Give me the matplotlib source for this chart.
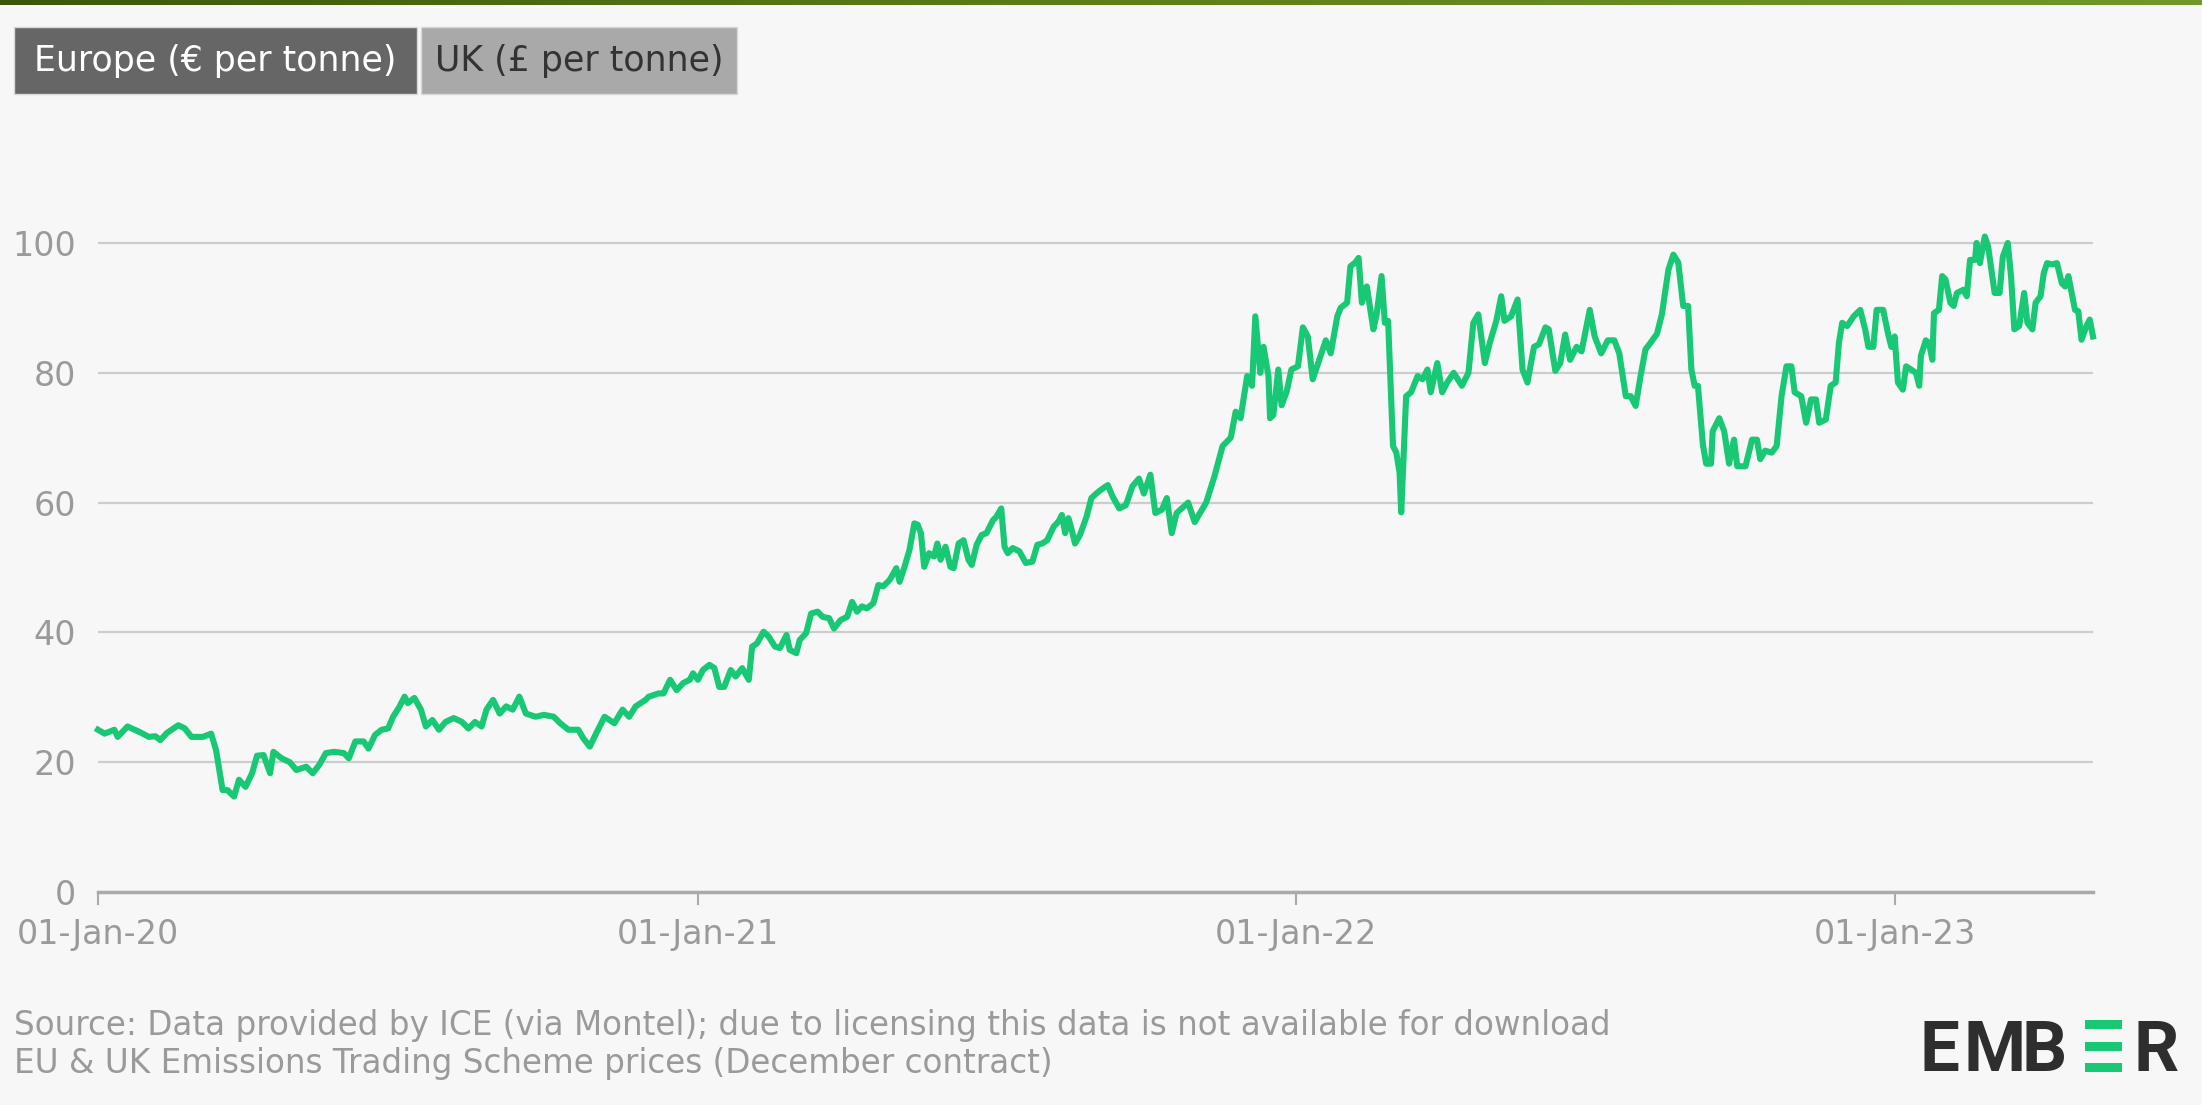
import numpy as np
import pandas as pd
import matplotlib
matplotlib.use("Agg")
import matplotlib.pyplot as plt
import matplotlib.dates as mdates
from matplotlib.patches import Rectangle
from matplotlib.colors import LinearSegmentedColormap

plt.rcParams['font.family'] = ['DejaVu Sans']

# EU ETS December contract, days counted from 01-Jan-2020
start = pd.Timestamp("2020-01-01")
days = [
    0, 4, 10, 12, 18, 25, 31, 35, 38, 42, 49, 53, 57, 64, 69, 72, 76, 79, 83, 86,
    90, 94, 97, 101, 105, 107, 112, 117, 121, 127, 131, 135, 139, 144, 150, 153, 157, 162, 165, 169,
    173, 177, 180, 184, 187, 189, 193, 197, 200, 204, 208, 212, 217, 222, 226, 230, 234, 237, 241, 245,
    249, 253, 257, 261, 267, 272, 278, 282, 287, 293, 296, 300, 304, 309, 315, 320, 324, 328, 334, 336,
    342, 345, 349, 353, 357, 361, 363, 366, 369, 373, 376, 379, 382, 386, 389, 393, 397, 399, 402, 406,
    409, 413, 416, 420, 422, 426, 428, 432, 435, 439, 442, 446, 449, 453, 457, 460, 463, 466, 469, 473,
    476, 479, 483, 487, 489, 492, 495, 498, 500, 502, 504, 507, 510, 512, 514, 517, 520, 522, 525, 528,
    531, 533, 536, 539, 542, 546, 548, 551, 553, 555, 558, 562, 566, 570, 573, 576, 579, 583, 586, 588,
    590, 592, 594, 596, 599, 603, 606, 609, 612, 616, 619, 623, 627, 631, 635, 638, 642, 645, 649, 652,
    655, 658, 665, 669, 676, 681, 686, 691, 694, 697, 701, 704, 706, 709, 711, 714, 715, 717, 720, 722,
    725, 728, 732, 735, 738, 741, 745, 749, 752, 756, 758, 762, 764, 767, 769, 771, 773, 774, 778, 780,
    783, 785, 787, 790, 792, 794, 795, 798, 801, 805, 808, 811, 813, 817, 820, 823, 827, 832, 836, 839,
    842, 846, 849, 853, 856, 858, 862, 866, 869, 872, 876, 879, 883, 885, 889, 892, 895, 898, 902, 905,
    910, 913, 917, 921, 925, 928, 932, 935, 938, 941, 944, 947, 951, 954, 958, 961, 964, 967, 970, 972,
    974, 976, 979, 981, 984, 985, 987, 989, 992, 995, 998, 1000, 1005, 1009, 1012, 1014, 1017, 1021, 1024, 1027,
    1030, 1033, 1035, 1039, 1042, 1045, 1048, 1050, 1054, 1057, 1060, 1062, 1064, 1067, 1071, 1075, 1078, 1080, 1083, 1085,
    1089, 1092, 1094, 1096, 1098, 1101, 1103, 1106, 1109, 1111, 1112, 1115, 1117, 1119, 1120, 1123, 1125, 1127, 1130, 1132,
    1134, 1138, 1140, 1142, 1145, 1146, 1148, 1151, 1153, 1155, 1157, 1160, 1162, 1165, 1167, 1169, 1172, 1175, 1177, 1180,
    1182, 1185, 1187, 1189, 1192, 1195, 1198, 1200, 1202, 1206, 1208, 1210, 1213, 1215, 1217,
]
price = [
    25.0, 24.4, 25.0, 23.9, 25.5, 24.7, 23.9, 24.0, 23.4, 24.5, 25.7, 25.2, 23.9, 23.9, 24.4, 21.9, 15.7, 15.7, 14.7, 17.3,
    16.2, 18.3, 21.0, 21.1, 18.3, 21.6, 20.6, 20.0, 18.8, 19.3, 18.3, 19.6, 21.4, 21.6, 21.4, 20.6, 23.2, 23.2, 22.1, 24.2,
    25.0, 25.2, 27.0, 28.6, 30.1, 29.1, 29.9, 28.1, 25.5, 26.5, 25.0, 26.2, 26.8, 26.2, 25.2, 26.2, 25.5, 28.1, 29.6, 27.5,
    28.6, 28.1, 30.1, 27.5, 27.0, 27.3, 27.0, 26.0, 25.0, 25.0, 23.7, 22.4, 24.5, 27.0, 26.0, 28.1, 27.0, 28.6, 29.6, 30.1,
    30.6, 30.6, 32.7, 31.1, 32.2, 32.7, 33.7, 32.7, 34.2, 35.0, 34.5, 31.6, 31.6, 34.2, 33.2, 34.5, 32.7, 37.8, 38.3, 40.1,
    39.4, 37.8, 37.6, 39.6, 37.3, 36.8, 38.8, 39.9, 42.9, 43.2, 42.4, 42.2, 40.6, 41.9, 42.4, 44.7, 43.2, 44.0, 43.7, 44.5,
    47.3, 47.1, 48.1, 49.9, 47.8, 50.1, 52.7, 56.8, 56.6, 55.3, 50.1, 52.2, 51.7, 53.7, 51.2, 53.2, 50.1, 49.9, 53.7, 54.2,
    51.2, 50.4, 53.5, 55.0, 55.3, 57.3, 57.8, 59.1, 53.2, 52.2, 53.0, 52.5, 50.7, 50.9, 53.5, 53.7, 54.2, 56.3, 57.1, 58.1,
    55.3, 57.6, 55.8, 53.7, 55.0, 57.8, 60.7, 61.4, 62.0, 62.7, 60.9, 59.1, 59.6, 62.5, 63.7, 61.4, 64.3, 58.4, 58.9, 60.7,
    55.3, 58.4, 60.0, 57.0, 60.0, 64.0, 68.7, 70.0, 74.0, 73.0, 79.5, 78.0, 88.7, 80.0, 84.0, 79.5, 73.0, 73.5, 80.5, 75.0,
    77.0, 80.5, 81.0, 87.0, 85.6, 79.0, 82.0, 85.0, 83.0, 88.7, 90.0, 90.8, 96.4, 97.0, 97.7, 90.8, 92.8, 93.3, 86.7, 89.0,
    94.9, 87.7, 88.0, 68.7, 67.7, 64.6, 58.5, 76.4, 77.0, 79.5, 79.0, 80.5, 77.0, 81.5, 77.0, 78.5, 80.0, 78.0, 80.0, 87.7,
    89.0, 81.5, 84.6, 88.0, 91.8, 88.0, 88.7, 91.3, 80.5, 78.5, 84.0, 84.4, 87.0, 86.7, 80.3, 81.5, 85.9, 82.0, 84.0, 83.3,
    89.7, 85.6, 83.0, 85.0, 85.0, 83.0, 76.4, 76.4, 74.9, 79.5, 83.6, 84.6, 86.0, 89.0, 95.9, 98.2, 97.0, 90.3, 90.3, 80.5,
    78.0, 78.0, 69.0, 66.0, 66.0, 71.0, 72.0, 73.0, 71.0, 66.0, 69.7, 65.6, 65.6, 69.7, 69.7, 66.7, 68.0, 67.7, 68.7, 76.4,
    81.0, 81.0, 77.0, 76.4, 72.3, 75.9, 75.9, 72.3, 72.8, 78.0, 78.5, 84.6, 87.7, 87.2, 88.7, 89.7, 86.7, 84.0, 84.0, 89.7,
    89.7, 86.0, 84.0, 85.6, 78.5, 77.4, 81.0, 80.5, 80.0, 78.0, 82.6, 85.0, 84.6, 82.0, 89.2, 89.7, 94.9, 94.4, 90.8, 90.3,
    92.3, 92.8, 91.8, 97.4, 97.4, 100.0, 96.9, 101.0, 99.5, 95.9, 92.3, 92.3, 97.9, 100.0, 94.9, 86.7, 87.2, 92.3, 87.7, 86.7,
    90.8, 91.8, 95.4, 96.9, 96.7, 96.9, 93.8, 93.3, 94.9, 89.7, 89.5, 85.1, 87.2, 88.2, 85.6,
]
year_ticks = ["2020-01-01", "2021-01-01", "2022-01-01", "2023-01-01"]
y_ticks = [0, 20, 40, 60, 80, 100]
tabs = ["Europe (€ per tonne)", "UK (£ per tonne)"]
source_lines = [
    "Source: Data provided by ICE (via Montel); due to licensing this data is not available for download",
    "EU & UK Emissions Trading Scheme prices (December contract)",
]

dates = start + pd.to_timedelta(days, unit="D")

W, H = 2202, 1105
bg = "#f7f7f7"
green = "#18c874"
fig = plt.figure(figsize=(W / 100, H / 100), dpi=100, facecolor=bg)

# top gradient strip
gax = fig.add_axes([0, 1 - 5 / H, 1, 5 / H])
cmap = LinearSegmentedColormap.from_list("g", ["#3a580b", "#5c7f16", "#72982a"])
gax.imshow(np.linspace(0, 1, 256)[None, :], aspect="auto", cmap=cmap)
gax.axis("off")

# main axes: x from 98 to 2093 px, y=0 at 892 px, 6.49 px per unit
ax = fig.add_axes([98 / W, (H - 892) / H, (2093 - 98) / W, 110 * 6.49 / H])
ax.set_facecolor(bg)
ax.plot(dates, price, color=green, lw=4.4, clip_on=False, zorder=3)
ax.set_xlim(start, start + pd.Timedelta(days=1217))
ax.set_ylim(0, 110)
ax.set_yticks(y_ticks)
ax.set_xticks(pd.to_datetime(year_ticks))
ax.xaxis.set_major_formatter(mdates.DateFormatter("%d-%b-%y"))
ax.grid(axis="y", color="#cdcdcd", lw=1.6)
ax.set_axisbelow(True)
for s in ["top", "left", "right"]:
    ax.spines[s].set_visible(False)
ax.spines["bottom"].set_color("#aaaaaa")
ax.spines["bottom"].set_linewidth(2.5)
ax.tick_params(axis="y", length=0, pad=16, labelsize=24, labelcolor="#9a9a9a")
ax.tick_params(axis="x", length=9, width=1.5, color="#aaaaaa", pad=10,
               labelsize=24, labelcolor="#9a9a9a")

# tab buttons
tab_boxes = [(14, 417, "#666666", "white"), (421, 737, "#a9a9a9", "#333333")]
for label, (x0, x1, fc, tc) in zip(tabs, tab_boxes):
    fig.patches.append(Rectangle((x0 / W, (H - 94) / H), (x1 - x0) / W, 67 / H,
                                 transform=fig.transFigure, facecolor=fc,
                                 edgecolor="#d8d8d8", lw=1))
    fig.text((x0 + x1) / 2 / W, (H - 61) / H, label, ha="center", va="center",
             fontsize=25, color=tc)

# source notes
for i, line in enumerate(source_lines):
    fig.text(14 / W, (H - 1026 - 37 * i) / H, line, ha="left", va="center",
             fontsize=23.5, color="#9a9a9a")

# EMBER logo
logo_y = (H - 1071) / H
for ch, x in [("E", 1920), ("M", 1963), ("B", 2022), ("R", 2133)]:
    fig.text(x / W, logo_y, ch, ha="left", va="baseline", fontsize=51,
             weight="bold", color="#2e2e2e", family=["Roboto", "DejaVu Sans"])
for y0 in [1020, 1042, 1063]:
    fig.patches.append(Rectangle((2085 / W, (H - y0 - 9) / H), 37 / W, 9 / H,
                                 transform=fig.transFigure, facecolor=green,
                                 edgecolor="none"))

fig.savefig("out.png", dpi=100, facecolor=bg)
